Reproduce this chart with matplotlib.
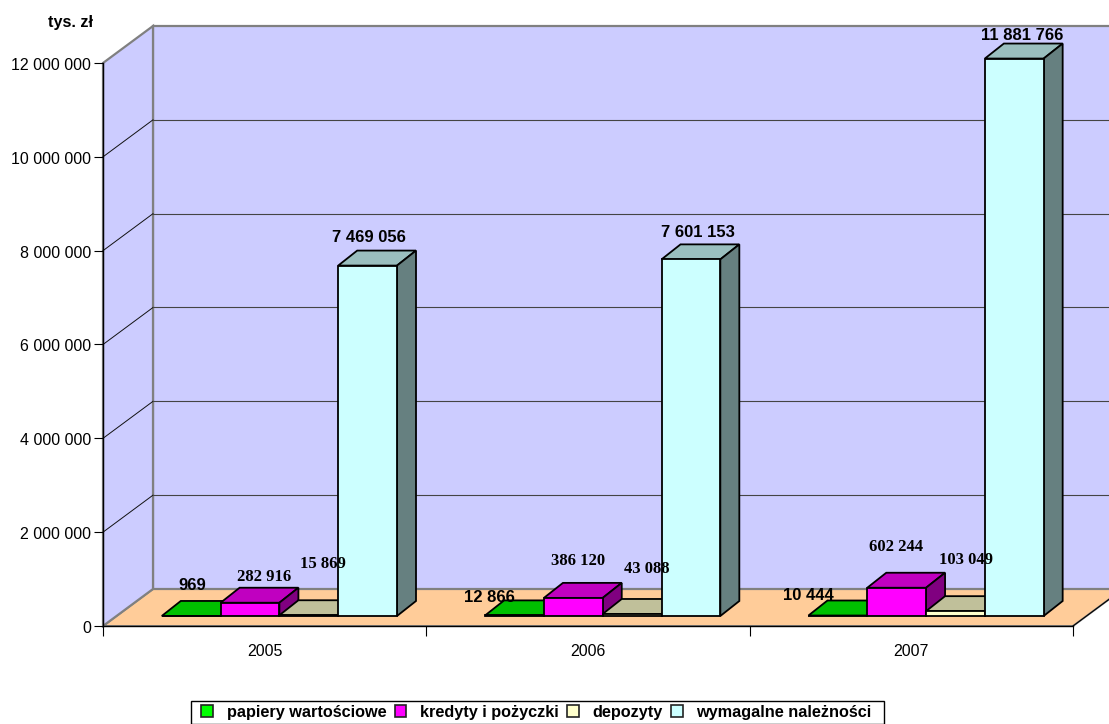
import matplotlib
matplotlib.use('Agg')
import matplotlib.pyplot as plt
from matplotlib.patches import Polygon, Patch, Rectangle
from matplotlib.transforms import ScaledTranslation

years = ['2005', '2006', '2007']
series_names = ['papiery wartościowe', 'kredyty i pożyczki', 'depozyty', 'wymagalne należności']
papiery = [969, 12866, 10444]
kredyty = [282916, 386120, 602244]
depozyty = [15869, 43088, 103049]
wymagalne = [7469056, 7601153, 11881766]
y_ticks = [0, 2000000, 4000000, 6000000, 8000000, 10000000, 12000000]

# front, top, side
colors = [('#00FF00', '#00C000', '#008000'),
          ('#FF00FF', '#C000C0', '#800080'),
          ('#FFFFCC', '#C0C09A', '#808066'),
          ('#CCFFFF', '#9ABFBF', '#668080')]

# label look: (dx, dy) in pixels from bar top centre
label_off = [[(1.5, 30.5), (-24.8, 18), (-29.2, 20)],
             [(14.5, 25.7), (5.2, 36.9), (-0.2, 40.7)],
             [(14.5, 51.3), (14.2, 45), (10.8, 51.2)],
             [(1.5, 28), (7.2, 26.9), (7.8, 23.5)]]
label_font = [['Liberation Sans'] * 3,
              ['Liberation Serif'] * 3,
              ['Liberation Serif'] * 3,
              ['Liberation Sans'] * 3]

W, H = 1109, 724
fig = plt.figure(figsize=(W / 100, H / 100), dpi=100)
plt.rcParams['font.family'] = 'Liberation Sans'
ax = fig.add_axes([103 / W, 1 - 626 / H, 970 / W, 563 / H])
ax.set_xlim(0, 3)
ax.set_ylim(0, 12000000)
ax.patch.set_alpha(0)

# pixel to data sizes
px_x = 3 / 970
px_y = 12000000 / 563

def fmt(v):
    return f'{v:,}'.replace(',', ' ')

def poly(pts, fc, ec, lw=1.3, z=2):
    ax.add_patch(Polygon(pts, closed=True, facecolor=fc, edgecolor=ec, linewidth=lw,
                         clip_on=False, zorder=z, joinstyle='miter'))

# walls and floor
ddx, ddy = 50 * px_x, 37 * px_y
top = 12000000
poly([(0, 0), (3, 0), (3 + ddx, ddy), (ddx, ddy)], '#FFCC99', '#808080', 1.4, 1)
poly([(ddx, ddy), (3.2, ddy), (3.2, top + ddy), (ddx, top + ddy)], '#CCCCFF', '#808080', 1.6, 1)
poly([(0, 0), (ddx, ddy), (ddx, top + ddy), (0, top)], '#CCCCFF', '#808080', 1.6, 1)
ax.plot([3, 3 + ddx], [0, ddy], color='black', lw=0.8, clip_on=False, zorder=1.5)
for t in y_ticks[1:-1]:
    ax.plot([0, ddx], [t, t + ddy], color='#111111', lw=0.7, clip_on=False, zorder=1.5)
    ax.plot([ddx, 3.2], [t + ddy, t + ddy], color='#444444', lw=0.8, clip_on=False, zorder=1.5)

# bars
bw = 58.8 / 970 * 3
bdx, bdy = 19 * px_x, 15 * px_y
base = 10 * px_y
all_series = [papiery, kredyty, depozyty, wymagalne]
for i in range(len(years)):
    for k, vals in enumerate(all_series):
        x0 = i + bw + k * bw
        x1 = x0 + bw
        v = base + vals[i]
        front, toph, side = colors[k]
        poly([(x0, v), (x1, v), (x1 + bdx, v + bdy), (x0 + bdx, v + bdy)], toph, 'black', z=3)
        poly([(x1, base), (x1 + bdx, base + bdy), (x1 + bdx, v + bdy), (x1, v)], side, 'black', z=3)
        poly([(x0, base), (x1, base), (x1, v), (x0, v)], front, 'black', z=3)

for i in range(len(years)):
    for k, vals in enumerate(all_series):
        x0 = i + bw + k * bw
        ax.annotate(fmt(vals[i]), xy=(x0 + bw / 2, base + vals[i]), xytext=label_off[k][i],
                    textcoords='offset pixels', ha='center', va='center', fontsize=12,
                    fontweight='bold', family=label_font[k][i], annotation_clip=False, zorder=5)

# axes
for s in ['top', 'right']:
    ax.spines[s].set_visible(False)
ax.spines['left'].set_linewidth(1)
ax.spines['bottom'].set_linewidth(1)
ax.set_yticks(y_ticks)
ax.set_yticklabels([fmt(t) for t in y_ticks], fontsize=11.5, color='black')
ax.set_xticks([0, 1, 2, 3])
ax.set_xticklabels([])
ax.set_xticks([0.5, 1.5, 2.5], labels=years, minor=True, fontsize=11.5)
ax.tick_params(axis='y', length=6.5, width=0.8, pad=2.2)
ax.tick_params(axis='x', which='major', length=7.5, width=0.8)
ax.tick_params(axis='x', which='minor', length=0, pad=13)
for sp in ax.spines.values():
    sp.set_zorder(2.5)
for lab in ax.get_yticklabels():
    lab.set_transform(lab.get_transform() + ScaledTranslation(0, -0.01, fig.dpi_scale_trans))

fig.text(93 / W, 1 - 22 / H, 'tys. zł', ha='right', va='center', fontsize=11.6, fontweight='bold')

handles = [Patch(facecolor=c[0], edgecolor='#222222', linewidth=1.2) for c in colors]
leg = fig.legend(handles, series_names, ncol=4, loc='center', bbox_to_anchor=(536.5 / W, 1 - 712 / H),
                 prop={'weight': 'bold', 'size': 11.7}, frameon=False,
                 handlelength=0.72, handleheight=0.72, handletextpad=0.85, columnspacing=0.5,
                 borderpad=0.25, borderaxespad=0)
fig.add_artist(Rectangle((190.5 / W, 1 - 723.5 / H), 693 / W, 23 / H, transform=fig.transFigure,
                         facecolor='white', edgecolor='black', linewidth=1, zorder=1))
leg.set_zorder(3)

fig.savefig('out.png', dpi=100)
